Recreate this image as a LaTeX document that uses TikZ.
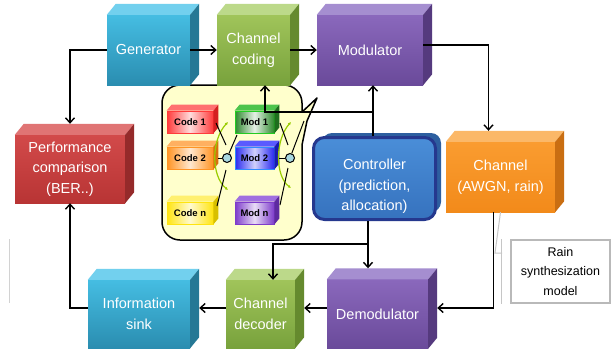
\documentclass[tikz,border=0pt]{standalone}
\usepackage{fontspec}
\setmainfont{Liberation Sans}
\usetikzlibrary{arrows.meta,calc}
\definecolor{cyF1}{HTML}{45BDE2}\definecolor{cyF2}{HTML}{2A8DB0}\definecolor{cyT}{HTML}{72D0EE}\definecolor{cyS}{HTML}{257895}
\definecolor{grF1}{HTML}{A0C45A}\definecolor{grF2}{HTML}{78A23C}\definecolor{grT}{HTML}{BCD98A}\definecolor{grS}{HTML}{658A2E}
\definecolor{puF1}{HTML}{8A68BC}\definecolor{puF2}{HTML}{6A4A9A}\definecolor{puT}{HTML}{A58ED0}\definecolor{puS}{HTML}{553A7E}
\definecolor{orF1}{HTML}{FA9C30}\definecolor{orF2}{HTML}{F28A1A}\definecolor{orT}{HTML}{FBB868}\definecolor{orS}{HTML}{C96E12}
\definecolor{rdF1}{HTML}{D24A4A}\definecolor{rdF2}{HTML}{B83434}\definecolor{rdT}{HTML}{E07474}\definecolor{rdS}{HTML}{952A2A}
\definecolor{ctF1}{HTML}{4A8ED8}\definecolor{ctF2}{HTML}{3672BE}\definecolor{ctB}{HTML}{25388E}\definecolor{ctS}{HTML}{2D5FA0}
\definecolor{callY}{HTML}{FFFFCC}\definecolor{swB}{HTML}{A8D8E0}\definecolor{arcG}{HTML}{99CC00}
% small boxes
\definecolor{aM}{HTML}{FF3B3B}\definecolor{aT}{HTML}{FF7070}\definecolor{aS}{HTML}{D42020}
\definecolor{bM}{HTML}{FF9424}\definecolor{bT}{HTML}{FFB060}\definecolor{bS}{HTML}{D87010}
\definecolor{cM}{HTML}{FFE410}\definecolor{cT}{HTML}{FFF070}\definecolor{cS}{HTML}{D8C000}
\definecolor{dM}{HTML}{2E8A2E}\definecolor{dT}{HTML}{4CC44C}\definecolor{dS}{HTML}{1E6E1E}\definecolor{dD}{HTML}{22CC22}
\definecolor{eM}{HTML}{2A2AF0}\definecolor{eT}{HTML}{5A5AFF}\definecolor{eS}{HTML}{1A1AB0}\definecolor{eD}{HTML}{2F8BFF}
\definecolor{fM}{HTML}{7E3CCB}\definecolor{fT}{HTML}{A070E0}\definecolor{fS}{HTML}{5E2AA0}
\newcommand{\cubefaces}[5]{%
  \fill[#2] (#1.north west) -- ++(#4,-#5) -- ($(#1.north east)+(#4,-#5)$) -- (#1.north east) -- cycle;
  \fill[#3] (#1.north east) -- ++(#4,-#5) -- ($(#1.south east)+(#4,-#5)$) -- (#1.south east) -- cycle;}
\begin{document}
\begin{tikzpicture}[x=1pt,y=-1pt,
  bigbox/.style={inner sep=0pt, text=white, align=center, font=\fontsize{14.5}{20.5}\selectfont},
  cybox/.style={bigbox, top color=cyF1, bottom color=cyF2},
  grbox/.style={bigbox, top color=grF1, bottom color=grF2},
  pubox/.style={bigbox, top color=puF1, bottom color=puF2},
  orbox/.style={bigbox, top color=orF1, bottom color=orF2},
  rdbox/.style={bigbox, top color=rdF1, bottom color=rdF2},
  sbox/.style={minimum width=#1, minimum height=22pt, inner sep=0pt, line width=0.8pt,
    font=\bfseries\fontsize{9.5}{10}\selectfont, text=black},
  arr/.style={line width=1.8pt, -{Straight Barb[length=5pt,width=9pt,line width=1.4pt]}},
  sw/.style={line width=1pt},
  garc/.style={arcG, line width=1.2pt, {Latex[length=3pt,width=3pt]}-{Latex[length=3pt,width=3pt]}},
  glink/.style={gray!45, line width=1pt},
  swc/.style={circle, draw, fill=swB, minimum size=9pt, inner sep=0pt, line width=1pt}]
\useasboundingbox (0,0) rectangle (614,354);
\fill[white] (0,0) rectangle (614,354);
% callout
\draw[line width=1.5pt, fill=callY, line join=round] (232,85) -- (284,85) arc[start angle=-90, end angle=0, radius=18]
  -- (302,112) -- (317,98) -- (307,121) -- (302,145) -- (302,222) arc[start angle=0, end angle=90, radius=18]
  -- (180,240) arc[start angle=90, end angle=180, radius=18] -- (162,103) arc[start angle=180, end angle=270, radius=18] -- cycle;
% small boxes
\node[sbox=46pt, draw=aM, left color=aM, right color=aM, middle color=aM!18] (c1) at (190,122) {Code 1};
\cubefaces{c1}{aT}{aS}{5}{6}
\node[sbox=46pt, draw=bM, left color=bM, right color=bM, middle color=bM!22] (c2) at (190,158) {Code 2};
\cubefaces{c2}{bT}{bS}{5}{6}
\node[sbox=46pt, draw=cM, left color=cM, right color=cM, middle color=cM!20] (cn) at (190,213) {Code n};
\cubefaces{cn}{cT}{cS}{5}{6}
\node[sbox=39pt, draw=dD, left color=dM, right color=dM, middle color=dM!12] (m1) at (254.5,122) {Mod 1};
\cubefaces{m1}{dT}{dS}{5}{6}
\node[sbox=39pt, draw=eD, left color=eM, right color=eM, middle color=eM!22] (m2) at (254.5,158) {Mod 2};
\cubefaces{m2}{eT}{eS}{5}{6}
\node[sbox=39pt, draw=fM, left color=fM, right color=fM, middle color=fM!18] (mn) at (254.5,213) {Mod n};
\cubefaces{mn}{fT}{fS}{5}{6}
% switches
\draw[garc] (228,122) .. controls (211,140) and (211,176) .. (228,190);
\draw[garc] (291,122) .. controls (275,140) and (275,176) .. (291,188);
\node[swc] (s1) at (227,158) {};
\node[swc] (s2) at (290,158) {};
\draw[sw] ([xshift=5pt]c2.east) -- (s1);
\draw[sw] (216,123) -- (226,145);
\draw[sw] (217,206) -- (226,170);
\draw[sw] (s1) -- (237,135);
\draw[sw] ([xshift=5pt]m2.east) -- (s2);
\draw[sw] (280,123) -- (288,145);
\draw[sw] (280,205) -- (288,168);
\draw[sw] (s2) -- (304,121);
% big boxes
\node[cybox, minimum width=83pt, minimum height=70pt] (gen) at (148.5,50) {Generator};
\cubefaces{gen}{cyT}{cyS}{9}{11}
\node[grbox, minimum width=73pt, minimum height=70pt] (cc) at (253.5,50) {Channel\\coding};
\cubefaces{cc}{grT}{grS}{9}{11}
\node[pubox, minimum width=106pt, minimum height=70pt] (mod) at (370,50) {Modulator};
\cubefaces{mod}{puT}{puS}{9}{11}
\node[orbox, minimum width=109pt, minimum height=70pt] (chan) at (500.5,177) {Channel\\(AWGN, rain)};
\cubefaces{chan}{orT}{orS}{9}{11}
\node[rdbox, minimum width=110pt, minimum height=68pt] (perf) at (70,169) {Performance\\comparison\\(BER..)};
\cubefaces{perf}{rdT}{rdS}{9}{11}
\node[cybox, minimum width=102pt, minimum height=68pt] (sink) at (139,314) {Information\\sink};
\cubefaces{sink}{cyT}{cyS}{9}{11}
\node[grbox, minimum width=69pt, minimum height=68pt] (dec) at (260.5,314) {Channel\\decoder};
\cubefaces{dec}{grT}{grS}{9}{11}
\node[pubox, minimum width=101pt, minimum height=69pt] (demod) at (377.5,314) {Demodulator};
\cubefaces{demod}{puT}{puS}{9}{11}
% controller
\fill[ctS, rounded corners=10pt] (322,133) rectangle (441,212);
\node[draw=ctB, line width=3pt, rounded corners=11pt, top color=ctF1, bottom color=ctF2,
      minimum width=122pt, minimum height=82pt, inner sep=0pt] (ctrl) at (374.5,178.5) {};
\node[bigbox] (ctrlt) at ([yshift=-8pt]ctrl.center) {Controller\\(prediction,\\allocation)};
% connectors
\draw[arr] (gen.east) -- (cc.west);
\draw[arr] (cc.east) -- (mod.west);
\draw[arr] (gen.west) -| ([yshift=11pt]perf.north);
\draw[arr] ([yshift=5pt]mod.east) -| ([xshift=-12pt,yshift=11pt]chan.north);
\draw[arr] ([xshift=-7pt]chan.south) |- ([xshift=9pt,yshift=6pt]demod.east);
\draw[arr] ([yshift=6pt]demod.west) -- ([xshift=9pt,yshift=6pt]dec.east);
\draw[arr] ([yshift=6pt]dec.west) -- ([xshift=9pt,yshift=6pt]sink.east);
\draw[arr] ([yshift=6pt]sink.west) -| (perf.south);
\coordinate (j1) at (368,244);
\coordinate (j2) at (373,112);
\coordinate (demodtop) at ([yshift=11pt]demod.north);
\draw[arr] (ctrl.south -| j1) -- (j1) -- (j1 |- demodtop);
\draw[arr] (j1) -| ([xshift=12.5pt]dec.north);
\draw[arr] (ctrl.north -| j2) -- (mod.south -| j2);
\draw[arr] (j2) -| ([xshift=11.5pt]cc.south);
% rain model
\node[draw=gray!55, line width=1.2pt, minimum width=99pt, minimum height=63pt, inner sep=0pt,
      align=center, font=\fontsize{12.5}{19.5}\selectfont] (rain) at (560.5,271.5) {Rain\\synthesization\\model};
\draw[glink] (chan.south) -- (495,253) -- (502,253);
\draw[glink] ([xshift=-9pt]rain.north west) -- ([xshift=-9pt]rain.south west);
\draw[gray!35, line width=1pt] (9,239) -- (9,303);
\end{tikzpicture}
\end{document}
